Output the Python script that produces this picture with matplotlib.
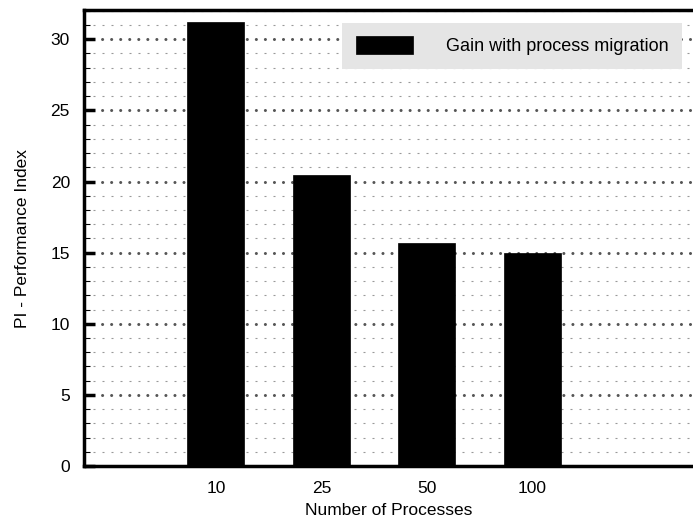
import matplotlib.pyplot as plt
import numpy as np
from matplotlib.ticker import MultipleLocator

plt.rcParams['font.family'] = ['Liberation Sans', 'DejaVu Sans']

# data
processes = ['10', '25', '50', '100']
gain = [31.2, 20.45, 15.7, 15.0]

fig = plt.figure(figsize=(6.93, 5.21), dpi=100)
ax = fig.add_axes([0.121, 0.1056, 0.879, 0.875])

x = np.arange(len(processes))
ax.bar(x, gain, width=0.54, color='black', edgecolor='black', linewidth=0.5,
       label='Gain with process migration', zorder=3)

ax.set_xlim(-1.25, 4.52)
ax.set_ylim(0, 32.05)
ax.set_xticks(x)
ax.set_xticklabels(processes)
ax.yaxis.set_major_locator(MultipleLocator(5))
ax.yaxis.set_minor_locator(MultipleLocator(1))
ax.tick_params(axis='y', which='major', direction='in', length=8, width=2.5, labelsize=12.5, pad=10)
ax.tick_params(axis='y', which='minor', direction='in', length=4, width=0.8)
ax.tick_params(axis='x', length=0, pad=10.5, labelsize=12.5)

# grid
ax.grid(True, axis='y', which='minor', color='#999999', linestyle=(0, (1.8, 6.3)), linewidth=0.8, zorder=0)
ax.grid(True, axis='y', which='major', color='#555555', linestyle=(0, (0.01, 2.95)), linewidth=2.2,
        dash_capstyle='round', zorder=1)

for s in ['left', 'top', 'bottom']:
    ax.spines[s].set_linewidth(2.5)
ax.spines['right'].set_visible(False)

ax.set_xlabel('Number of Processes', fontsize=12.5, labelpad=5)
ax.set_ylabel('PI - Performance Index', fontsize=12.5, labelpad=15)

leg = ax.legend(loc='upper right', bbox_to_anchor=(0.982, 0.972), frameon=True, fancybox=False,
                facecolor='#e5e5e5', edgecolor='#e5e5e5', framealpha=1, fontsize=13,
                handlelength=3.2, handleheight=1.1, handletextpad=1.8, borderpad=0.75,
                borderaxespad=0.0)
leg.get_frame().set_linewidth(0)

fig.savefig('out.png', dpi=100)
